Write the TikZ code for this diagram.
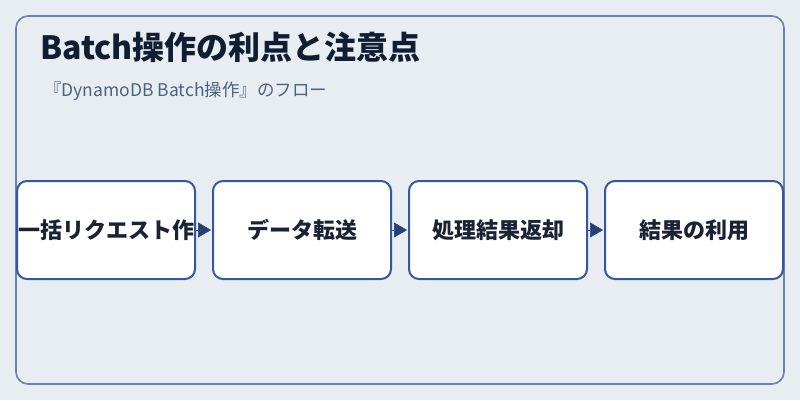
\documentclass[tikz,border=0pt]{standalone}
\usepackage{fontspec}
\setmainfont{Noto Sans CJK JP}
\newfontfamily\jp{Noto Sans CJK JP}
\usetikzlibrary{arrows.meta}
\definecolor{bgc}{HTML}{E8EDF2}
\definecolor{framec}{HTML}{6B82AB}
\definecolor{boxc}{HTML}{3557A0}
\definecolor{arrc}{HTML}{263F78}
\definecolor{titlec}{HTML}{111D33}
\definecolor{subc}{HTML}{4F617D}
\definecolor{textc}{HTML}{1A2233}
\tikzset{
  stepbox/.style={draw=boxc, fill=white, line width=2pt, rounded corners=10pt,
    minimum width=178pt, minimum height=98pt, inner sep=0pt, outer sep=0pt,
    font=\jp\bfseries\fontsize{22}{25}\selectfont, text=textc},
  flowarrow/.style={arrc, line width=0.5pt, shorten <=1pt, shorten >=2pt,
    -{Triangle[length=13pt,width=15pt]}},
}
\begin{document}
\begin{tikzpicture}[x=1pt,y=-1pt]
\useasboundingbox (0,0) rectangle (800,400);
\fill[bgc] (0,0) rectangle (800,400);
\draw[framec, line width=1.6pt, rounded corners=12pt] (16,16) rectangle (784,384);
\node[anchor=base west, inner sep=0pt, text=titlec, font=\jp\bfseries\fontsize{32}{36}\selectfont] (title) at (40,59) {Batch操作の利点と注意点};
\node[anchor=base west, inner sep=0pt, text=subc, font=\jp\fontsize{17.5}{21}\selectfont] (sub) at (44,96) {『DynamoDB Batch操作』のフロー};
\begin{scope}
\node[stepbox] (b1) at (106,230) {};
\clip[rounded corners=10pt] (b1.south west) rectangle (b1.north east);
\node[inner sep=0pt, font=\jp\bfseries\fontsize{22}{25}\selectfont, text=textc] (t1) at (b1.center) {一括リクエスト作};
\end{scope}
\node[stepbox] (b2) at (302,230) {データ転送};
\node[stepbox] (b3) at (498,230) {処理結果返却};
\node[stepbox] (b4) at (694,230) {結果の利用};
\draw[flowarrow] (b1.east) -- (b2.west);
\draw[flowarrow] (b2.east) -- (b3.west);
\draw[flowarrow] (b3.east) -- (b4.west);
\end{tikzpicture}
\end{document}
